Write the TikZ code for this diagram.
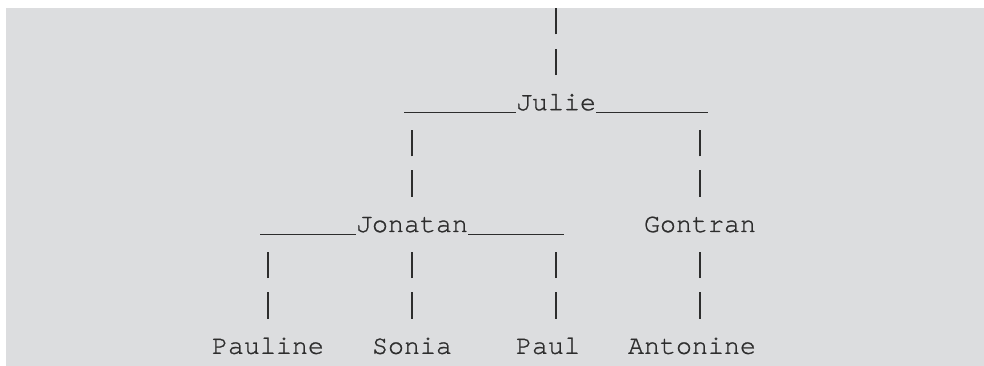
\documentclass[tikz,border=0pt]{standalone}
\usepackage{fontspec}
\setmonofont{texgyrecursor}[Extension=.otf, UprightFont=*-regular, FakeBold=1]

\definecolor{fond}{RGB}{220,221,223}
\definecolor{encre}{RGB}{45,45,45}

\tikzset{
	nom/.style={font=\ttfamily\fontsize{26.66pt}{32pt}\selectfont, text=encre, inner sep=0pt, anchor=base},
	trait/.style={draw=encre, line width=1.4pt},
	lien/.style={draw=encre, line width=1.2pt, dash pattern=on 26.5pt off 14.1pt}
}

\begin{document}
\begin{tikzpicture}[x=16pt, y=40.6pt]

\useasboundingbox (-13.25,0.714) rectangle (48.25,-8.3);
\fill[fond] (-12.875,0.517) rectangle (48.25,-8.3);

% Noms
	\node[nom] (julie) at (21.5,-2) {Julie};
	\node[nom] (jonatan) at (12.5,-5) {Jonatan};
	\node[nom] (gontran) at (30.5,-5) {Gontran};
	\node[nom] (pauline) at (3.5,-8) {Pauline};
	\node[nom] (sonia) at (12.5,-8) {Sonia};
	\node[nom] (paul) at (21,-8) {Paul};
	\node[nom] (antonine) at (30,-8) {Antonine};

% Traits horizontaux
	\foreach \n/\w in {julie/7, jonatan/6} {
		\draw[trait] (\n.base west) ++(0,-0.06) -- ++(-\w,0);
		\draw[trait] (\n.base east) ++(0,-0.06) -- ++(\w,0);
	}

% Traits verticaux
	\foreach \n/\dx in {julie/0, jonatan/0, gontran/0, pauline/0, sonia/0, paul/0.5, antonine/0.5}
		\draw[lien] (\n.base) ++(\dx,0.865) -- ++(0,1.652);

\end{tikzpicture}
\end{document}
